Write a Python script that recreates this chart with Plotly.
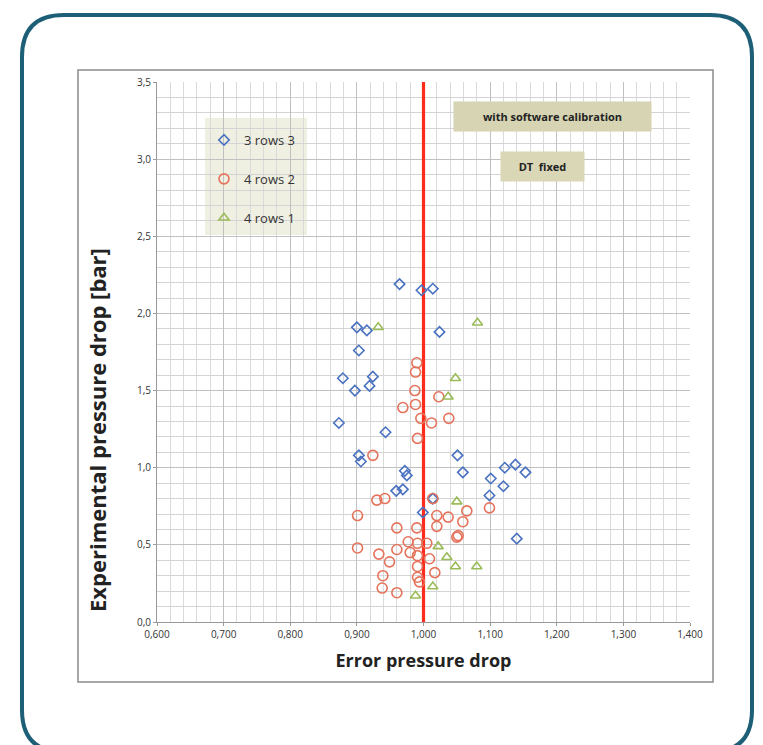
import plotly.graph_objects as go

# ---------------- data ----------------
rows3_x = [0.964, 0.997, 1.014, 1.024, 0.900, 0.915, 0.903, 0.879, 0.924, 0.897, 0.919, 0.873,
           0.943, 0.903, 0.906, 0.972, 0.975, 0.959, 0.969, 1.051, 1.059, 1.101, 1.122, 1.138,
           1.153, 1.120, 1.099, 1.140, 0.999, 1.014]
rows3_y = [2.19, 2.15, 2.16, 1.88, 1.91, 1.89, 1.76, 1.58, 1.59, 1.50, 1.53, 1.29,
           1.23, 1.08, 1.04, 0.98, 0.95, 0.85, 0.86, 1.08, 0.97, 0.93, 1.00, 1.02,
           0.97, 0.88, 0.82, 0.54, 0.71, 0.80]

rows2_x = [0.990, 0.988, 0.987, 0.988, 0.969, 1.023, 1.038, 1.012, 0.996, 0.991, 0.924, 0.930,
           0.942, 1.014, 0.901, 1.020, 1.037, 1.065, 1.059, 1.099, 1.020, 0.960, 0.990, 1.050,
           0.901, 0.933, 0.960, 0.977, 0.980, 0.991, 1.005, 0.949, 0.991, 1.009, 0.991, 1.017,
           0.939, 0.991, 0.994, 0.938, 0.960, 1.052]
rows2_y = [1.68, 1.62, 1.50, 1.41, 1.39, 1.46, 1.32, 1.29, 1.32, 1.19, 1.08, 0.79,
           0.80, 0.80, 0.69, 0.69, 0.68, 0.72, 0.65, 0.74, 0.62, 0.61, 0.61, 0.55,
           0.48, 0.44, 0.47, 0.52, 0.45, 0.51, 0.51, 0.39, 0.43, 0.41, 0.36, 0.32,
           0.30, 0.29, 0.26, 0.22, 0.19, 0.56]

rows1_x = [0.932, 1.081, 1.048, 1.037, 1.050, 1.022, 1.035, 1.048, 1.080, 1.014, 0.988]
rows1_y = [1.91, 1.94, 1.58, 1.46, 0.78, 0.49, 0.42, 0.36, 0.36, 0.23, 0.17]

x_ticks = [0.6, 0.7, 0.8, 0.9, 1.0, 1.1, 1.2, 1.3, 1.4]
x_tick_labels = ["0,600", "0,700", "0,800", "0,900", "1,000", "1,100", "1,200", "1,300", "1,400"]
y_ticks = [0.0, 0.5, 1.0, 1.5, 2.0, 2.5, 3.0, 3.5]
y_tick_labels = ["0,0", "0,5", "1,0", "1,5", "2,0", "2,5", "3,0", "3,5"]

ref_x = [1.0, 1.0]
ref_y = [0.0, 3.5]

# ---------------- layout geometry (pixels, page coords) ----------------
OFF = 8                      # default body margin of the html page
W, H = 763 - OFF, 745 - OFF
PL, PR, PT, PB = 157, 690, 82, 622   # plot area in page pixels


def px(x):
    return (x - PL) / (PR - PL)


def py(y):
    return (PB - y) / (PB - PT)


fig = go.Figure()

fig.add_trace(go.Scatter(
    x=ref_x, y=ref_y, mode="lines", line=dict(color="#ff2b1c", width=3.2),
    showlegend=False, hoverinfo="skip"))

fig.add_trace(go.Scatter(
    x=rows3_x, y=rows3_y, mode="markers", name="3 rows 3", legendgroup="a",
    marker=dict(symbol="diamond-open", size=8, color="#4a72c0", line=dict(width=1.6))))
fig.add_trace(go.Scatter(
    x=rows2_x, y=rows2_y, mode="markers", name="4 rows 2", legendgroup="b",
    marker=dict(symbol="circle-open", size=10, color="#e5735c", line=dict(width=1.6))))
fig.add_trace(go.Scatter(
    x=rows1_x, y=rows1_y, mode="markers", name="4 rows 1", legendgroup="c",
    marker=dict(symbol="triangle-up-open", size=9, color="#9bbb59", line=dict(width=1.6))))

tick_font = dict(family="Open Sans", size=10, color="#333333")

fig.update_layout(
    width=W, height=H,
    margin=dict(l=PL - OFF, r=W - (PR - OFF), t=PT - OFF, b=H - (PB - OFF), pad=0),
    paper_bgcolor="white", plot_bgcolor="white",
    font=dict(family="Open Sans", color="#222222"),
    xaxis=dict(
        range=[0.6, 1.4], tickvals=x_ticks, ticktext=x_tick_labels,
        tickfont=tick_font, showgrid=True, gridcolor="#c0c0c0", gridwidth=1,
        minor=dict(dtick=0.02, showgrid=True, gridcolor="#dadada", gridwidth=1,
                   ticks="", tick0=0.6),
        showline=True, linecolor="#999999", linewidth=1, ticks="outside",
        ticklen=3, tickcolor="#999999", zeroline=False,
        title=dict(text="<b>Error pressure drop</b>",
                   font=dict(family="Open Sans", size=18, color="#222222"),
                   standoff=14),
    ),
    yaxis=dict(
        range=[0, 3.5], tickvals=y_ticks, ticktext=y_tick_labels,
        tickfont=tick_font, showgrid=True, gridcolor="#c0c0c0", gridwidth=1,
        minor=dict(dtick=0.1, showgrid=True, gridcolor="#d4d4d4", gridwidth=1,
                   ticks="", tick0=0),
        showline=True, linecolor="#999999", linewidth=1, ticks="outside",
        ticklen=3, tickcolor="#999999", zeroline=False,
    ),
    legend=dict(
        x=px(204), y=py(125), xanchor="left", yanchor="top",
        bgcolor="rgba(0,0,0,0)", borderwidth=0,
        font=dict(family="Open Sans", size=13, color="#333333"),
        traceorder="grouped", tracegroupgap=19, itemwidth=30,
    ),
    showlegend=True,
)

# legend background panel
fig.add_shape(type="rect", xref="paper", yref="paper",
              x0=px(205), x1=px(307), y0=py(235), y1=py(118),
              fillcolor="#efefe2", line=dict(width=0), layer="between")

# y axis title as annotation (offset like the reference)
fig.add_annotation(
    xref="paper", yref="paper", x=px(97), y=py(430), showarrow=False,
    text="<b>Experimental pressure drop [bar]</b>", textangle=-90,
    font=dict(family="Open Sans", size=22, color="#222222"),
    xanchor="center", yanchor="middle")

# label boxes
fig.add_annotation(
    xref="paper", yref="paper", x=px(552), y=py(117), showarrow=False,
    xanchor="center", yanchor="middle",
    text="<b>with software calibration</b>", width=195, height=27,
    bgcolor="#d6d4b2", font=dict(family="Open Sans", size=11, color="#222222"))
fig.add_annotation(
    xref="paper", yref="paper", x=px(542), y=py(166), showarrow=False,
    xanchor="center", yanchor="middle",
    text="<b>DT  fixed</b>", width=81, height=27,
    bgcolor="#d9d7b6", font=dict(family="Open Sans", size=11, color="#222222"))

# chart frame (grey box)
fig.add_shape(type="rect", xref="paper", yref="paper",
              x0=px(78), x1=px(713), y0=py(682), y1=py(70),
              line=dict(color="#8a8a8a", width=1.5), layer="below")

# outer rounded teal border
r = 42
L, R, T, B = 22, 752, 15, 752


def P(x, y):
    return f"{px(x):.5f},{py(y):.5f}"


path = (f"M {P(L, T + r)} Q {P(L, T)} {P(L + r, T)} L {P(R - r, T)} "
        f"Q {P(R, T)} {P(R, T + r)} L {P(R, B - r)} Q {P(R, B)} {P(R - r, B)} "
        f"L {P(L + r, B)} Q {P(L, B)} {P(L, B - r)} Z")
fig.add_shape(type="path", xref="paper", yref="paper", path=path,
              line=dict(color="#1e5f78", width=4), layer="below")

fig.write_html("out.html")
